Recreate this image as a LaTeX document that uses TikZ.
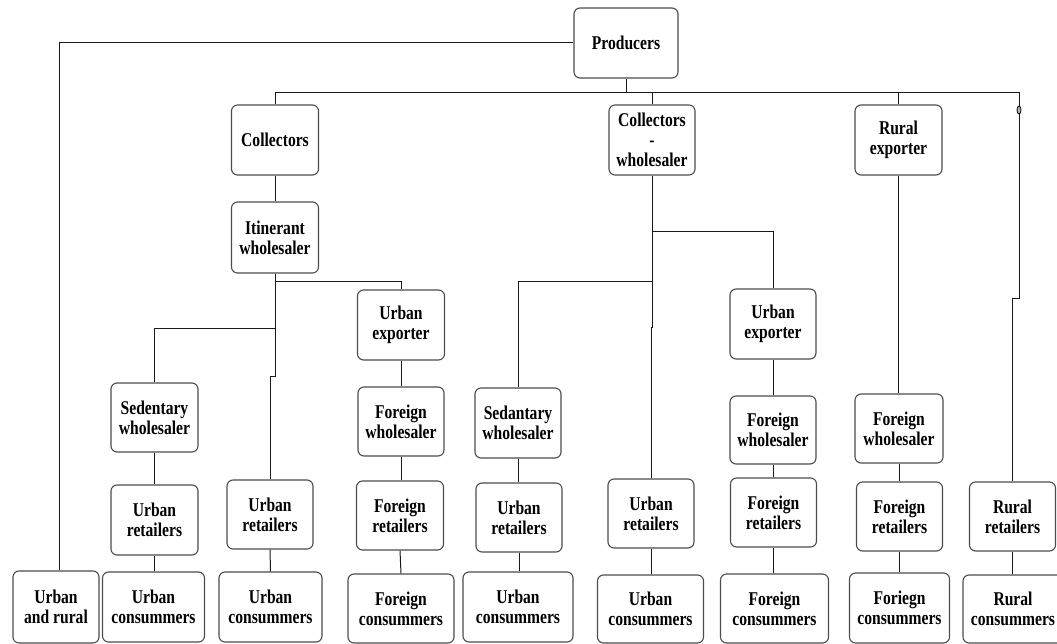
\documentclass[tikz,border=0pt]{standalone}
\usepackage{fontspec}
\newfontfamily\lbf{Liberation Serif}[FakeStretch=0.8]
\usetikzlibrary{shapes.geometric}
\tikzset{
  box/.style={draw=black!70, line width=1.1pt, rounded corners=6pt, fill=white,
    align=center, inner sep=0pt, font=\lbf\bfseries\fontsize{19.5}{20}\selectfont},
  bx/.style 2 args={box, minimum width=#1pt, minimum height=#2pt},
  conn/.style={draw=black!90, line width=1pt}
}
\begin{document}
\begin{tikzpicture}[x=1pt,y=-1pt]
\useasboundingbox (0,0) rectangle (1057,644);
% nodes
\node[bx={104}{70}] (prod) at (626,43) {Producers};
\node[bx={86}{72}] (ur) at (56,607) {Urban\\and rural};
\node[bx={87}{70}] (coll) at (275,140) {Collectors};
\node[bx={87}{71}] (itin) at (275,237.5) {Itinerant\\wholesaler};
\node[bx={87}{70}] (ue1) at (401,325) {Urban\\exporter};
\node[bx={87}{69}] (sw1) at (154.5,417.5) {Sedentary\\wholesaler};
\node[bx={87}{70}] (ur1) at (154.5,520) {Urban\\retailers};
\node[bx={102}{70}] (uc1) at (153.5,607) {Urban\\consummers};
\node[bx={86}{69}] (ur2) at (270,514.5) {Urban\\retailers};
\node[bx={103}{70}] (uc2) at (270.5,607) {Urban\\consummers};
\node[bx={86}{69}] (fw3) at (401,421.5) {Foreign\\wholesaler};
\node[bx={87}{69}] (fr3) at (400,515.5) {Foreign\\retailers};
\node[bx={106}{69}] (fc3) at (401,608.5) {Foreign\\consummers};
\node[bx={86}{70}] (cw) at (652,140) {Collectors\\-\\wholesaler};
\node[bx={86}{70}] (sw4) at (518,423) {Sedantary\\wholesaler};
\node[bx={86}{69}] (ur4) at (519,517.5) {Urban\\retailers};
\node[bx={110}{70}] (uc4) at (518,607) {Urban\\consummers};
\node[bx={86}{70}] (ue6) at (773,324) {Urban\\exporter};
\node[bx={86}{69}] (ur5) at (651,513.5) {Urban\\retailers};
\node[bx={106}{68}] (uc5) at (650.5,609) {Urban\\consummers};
\node[bx={86}{68}] (fw6) at (773,430) {Foreign\\wholesaler};
\node[bx={86}{69}] (fr6) at (773.5,512.5) {Foreign\\retailers};
\node[bx={108}{69}] (fc6) at (774.5,608.5) {Foreign\\consummers};
\node[bx={87}{70}] (re7) at (898.5,140) {Rural\\exporter};
\node[bx={88}{69}] (fw7) at (899,428.5) {Foreign\\wholesaler};
\node[bx={86}{69}] (fr7) at (899.5,516.5) {Foreign\\retailers};
\node[bx={100}{70}] (fc7) at (899.5,608) {Foriegn\\consummers};
\node[bx={86}{69}] (rr8) at (1012.5,516.5) {Rural\\retailers};
\node[bx={100}{68}] (rc8) at (1013,609) {Rural\\consummers};
\node[draw=black, fill=gray!60, line width=0.8pt, ellipse, inner sep=0pt,
      minimum width=4pt, minimum height=8pt] (knot) at (1019,110) {};
\coordinate (busR) at (1019,93);
\coordinate (j8) at (1019,298);
% connectors
\draw[conn] (prod.west) -| ([xshift=3pt]ur.north);
\draw[conn] (coll.north) |- (busR) -- (knot.north);
\draw[conn] (knot.south) -- (j8) -| (rr8.north);
\draw[conn] (prod.south) -- (prod.south |- busR);
\draw[conn] (cw.north) -- (cw.north |- busR);
\draw[conn] (re7.north) -- (re7.north |- busR);
\draw[conn] (coll.south) -- (itin.north);
\draw[conn] (itin.south) -- (itin.south |- 0,376) -| (ur2.north);
\draw[conn] (itin.south |- 0,282) -| (ue1.north);
\draw[conn] (itin.south |- 0,328) -| (sw1.north);
\draw[conn] (sw1.south) -- (ur1.north);
\draw[conn] (ur1.south) -- (ur1.south |- uc1.north);
\draw[conn] (ur2.south) -- (uc2.north);
\draw[conn] (ue1.south) -- (fw3.north);
\draw[conn] (fw3.south) -- (fw3.south |- fr3.north);
\draw[conn] (fr3.south) -- (fc3.north);
\draw[conn] (cw.south) -- (cw.south |- 0,327) -| (ur5.north);
\draw[conn] (cw.south |- 0,232) -| (ue6.north);
\draw[conn] (cw.south |- 0,282) -| (sw4.north);
\draw[conn] (sw4.south) -- (sw4.south |- ur4.north);
\draw[conn] (ur4.south) -- (ur4.south |- uc4.north);
\draw[conn] (ur5.south) -- (ur5.south |- uc5.north);
\draw[conn] (ue6.south) -- (fw6.north);
\draw[conn] (fw6.south) -- (fw6.south |- fr6.north);
\draw[conn] (fr6.south) -- (fr6.south |- fc6.north);
\draw[conn] (re7.south) -- (re7.south |- fw7.north);
\draw[conn] (fw7.south) -- (fw7.south |- fr7.north);
\draw[conn] (fr7.south) -- (fr7.south |- fc7.north);
\draw[conn] (rr8.south) -- (rr8.south |- rc8.north);
\end{tikzpicture}
\end{document}
